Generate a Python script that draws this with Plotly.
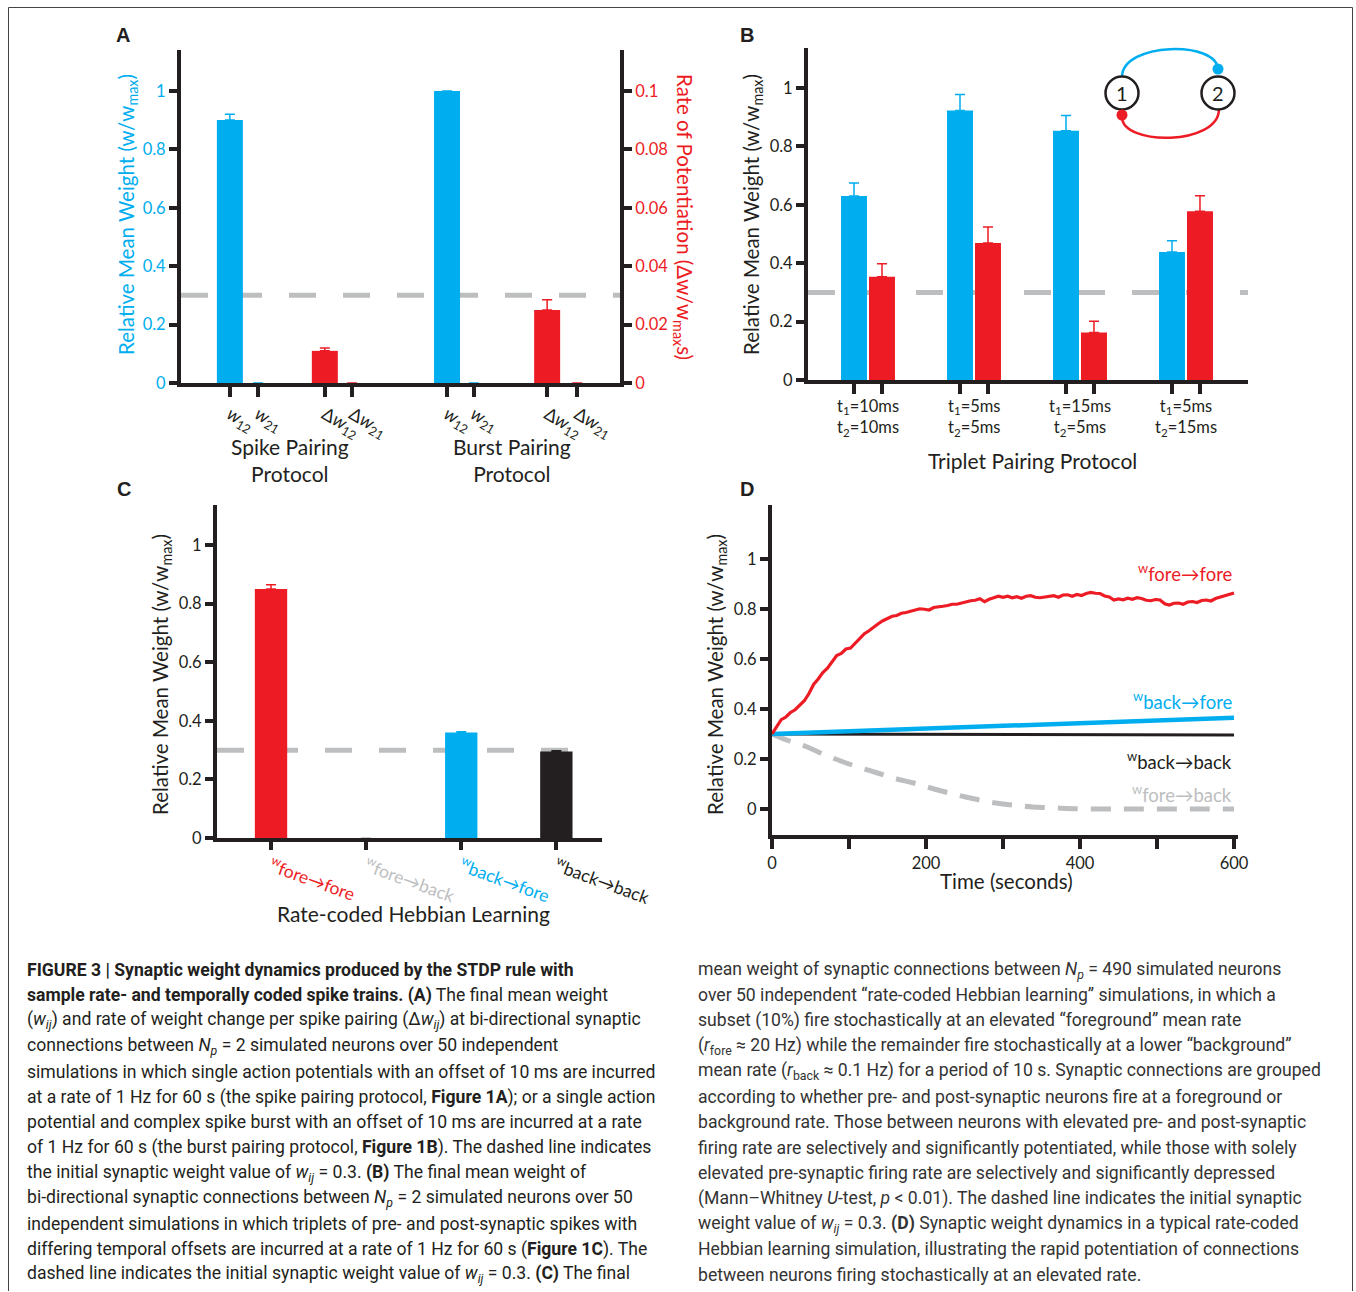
import plotly.graph_objects as go

# ================= DATA =================
a_tick_text = ["<i>w</i><sub>12</sub>", "<i>w</i><sub>21</sub>", "Δ<i>w</i><sub>12</sub>", "Δ<i>w</i><sub>21</sub>",
               "<i>w</i><sub>12</sub>", "<i>w</i><sub>21</sub>", "Δ<i>w</i><sub>12</sub>", "Δ<i>w</i><sub>21</sub>"]
a_groups = ["Spike Pairing<br>Protocol", "Burst Pairing<br>Protocol"]
a_weight = [0.90, 0.0, 1.00, 0.0]
a_weight_err = [0.02, 0.0, 0.0, 0.0]
a_rate = [0.011, 0.0, 0.025, 0.0]
a_rate_err = [0.001, 0.0, 0.0035, 0.0]
a_left_ticks = [0, 0.2, 0.4, 0.6, 0.8, 1]
a_left_ticktext = ["0", "0.2", "0.4", "0.6", "0.8", "1"]
a_right_ticks = [0, 0.02, 0.04, 0.06, 0.08, 0.1]
a_right_ticktext = ["0", "0.02", "0.04", "0.06", "0.08", "0.1"]

b_labels = ["t<sub>1</sub>=10ms<br>t<sub>2</sub>=10ms", "t<sub>1</sub>=5ms<br>t<sub>2</sub>=5ms",
            "t<sub>1</sub>=15ms<br>t<sub>2</sub>=5ms", "t<sub>1</sub>=5ms<br>t<sub>2</sub>=15ms"]
b_w12 = [0.63, 0.923, 0.854, 0.438]
b_w12_err = [0.045, 0.055, 0.052, 0.039]
b_w21 = [0.354, 0.469, 0.163, 0.578]
b_w21_err = [0.044, 0.055, 0.038, 0.053]

c_labels = ["fore→fore", "fore→back", "back→fore", "back→back"]
c_values = [0.85, 0.0, 0.36, 0.295]
c_err = [0.015, 0.0, 0.003, 0.003]

d_fore_fore_t = [0, 6, 12, 18, 24, 30, 36, 42, 48, 54, 60, 66, 72, 78, 84, 90, 96, 102, 108, 114,
                 120, 126, 132, 138, 144, 150, 156, 162, 168, 174, 180, 186, 192, 198, 204, 210, 216,
                 222, 228, 234, 240, 246, 252, 258, 264, 270, 276, 282, 288, 294, 300, 306, 312, 318,
                 324, 330, 336, 342, 348, 354, 360, 366, 372, 378, 384, 390, 396, 402, 408, 414, 420,
                 426, 432, 438, 444, 450, 456, 462, 468, 474, 480, 486, 492, 498, 504, 510, 516, 522,
                 528, 534, 540, 546, 552, 558, 564, 570, 576, 582, 588, 594, 600]
d_fore_fore = [0.300, 0.330, 0.357, 0.368, 0.386, 0.397, 0.416, 0.433, 0.462, 0.498, 0.520, 0.546,
               0.563, 0.587, 0.614, 0.622, 0.640, 0.644, 0.663, 0.684, 0.701, 0.713, 0.729, 0.741,
               0.753, 0.761, 0.771, 0.774, 0.783, 0.786, 0.791, 0.794, 0.801, 0.799, 0.796, 0.806,
               0.807, 0.811, 0.814, 0.819, 0.819, 0.824, 0.829, 0.833, 0.835, 0.841, 0.829, 0.839,
               0.845, 0.851, 0.847, 0.851, 0.845, 0.849, 0.843, 0.851, 0.853, 0.847, 0.845, 0.847,
               0.850, 0.853, 0.847, 0.856, 0.857, 0.851, 0.858, 0.854, 0.862, 0.866, 0.863, 0.862,
               0.852, 0.848, 0.836, 0.840, 0.837, 0.843, 0.839, 0.845, 0.842, 0.835, 0.833, 0.838,
               0.836, 0.821, 0.816, 0.823, 0.824, 0.819, 0.828, 0.830, 0.826, 0.834, 0.836, 0.832,
               0.842, 0.848, 0.855, 0.859, 0.864]
d_back_fore_t = [0, 100, 200, 300, 400, 500, 600]
d_back_fore = [0.300, 0.311, 0.322, 0.333, 0.344, 0.355, 0.365]
d_back_back_t = [0, 300, 600]
d_back_back = [0.300, 0.298, 0.296]
d_fore_back_t = [0, 20, 44, 70, 91, 115, 137, 160, 184, 207, 230, 253, 277, 300, 323, 346, 370,
                 400, 450, 500, 550, 600]
d_fore_back = [0.300, 0.275, 0.250, 0.215, 0.190, 0.165, 0.144, 0.122, 0.104, 0.083, 0.064, 0.047,
               0.031, 0.020, 0.013, 0.007, 0.004, 0.001, 0.0, 0.0, 0.0, 0.0]
d_xticks = [0, 100, 200, 300, 400, 500, 600]
d_xticktext = ["0", " ", "200", " ", "400", " ", "600"]

initial_weight = 0.3

caption_left = [
    "<b>FIGURE 3 | Synaptic weight dynamics produced by the STDP rule with</b>",
    "<b>sample rate- and temporally coded spike trains. (A)</b> The final mean weight",
    "(<i>w<sub>ij</sub></i>) and rate of weight change per spike pairing (Δ<i>w<sub>ij</sub></i>) at bi-directional synaptic",
    "connections between <i>N<sub>p</sub></i> = 2 simulated neurons over 50 independent",
    "simulations in which single action potentials with an offset of 10 ms are incurred",
    "at a rate of 1 Hz for 60 s (the spike pairing protocol, <b>Figure 1A</b>); or a single action",
    "potential and complex spike burst with an offset of 10 ms are incurred at a rate",
    "of 1 Hz for 60 s (the burst pairing protocol, <b>Figure 1B</b>). The dashed line indicates",
    "the initial synaptic weight value of <i>w<sub>ij</sub></i> = 0.3. <b>(B)</b> The final mean weight of",
    "bi-directional synaptic connections between <i>N<sub>p</sub></i> = 2 simulated neurons over 50",
    "independent simulations in which triplets of pre- and post-synaptic spikes with",
    "differing temporal offsets are incurred at a rate of 1 Hz for 60 s (<b>Figure 1C</b>). The",
    "dashed line indicates the initial synaptic weight value of <i>w<sub>ij</sub></i> = 0.3. <b>(C)</b> The final",
]
caption_right = [
    "mean weight of synaptic connections between <i>N<sub>p</sub></i> = 490 simulated neurons",
    "over 50 independent “rate-coded Hebbian learning” simulations, in which a",
    "subset (10%) fire stochastically at an elevated “foreground” mean rate",
    "(<i>r</i><sub>fore</sub> ≈ 20 Hz) while the remainder fire stochastically at a lower “background”",
    "mean rate (<i>r</i><sub>back</sub> ≈ 0.1 Hz) for a period of 10 s. Synaptic connections are grouped",
    "according to whether pre- and post-synaptic neurons fire at a foreground or",
    "background rate. Those between neurons with elevated pre- and post-synaptic",
    "firing rate are selectively and significantly potentiated, while those with solely",
    "elevated pre-synaptic firing rate are selectively and significantly depressed",
    "(Mann–Whitney <i>U</i>-test, <i>p</i> &lt; 0.01). The dashed line indicates the initial synaptic",
    "weight value of <i>w<sub>ij</sub></i> = 0.3. <b>(D)</b> Synaptic weight dynamics in a typical rate-coded",
    "Hebbian learning simulation, illustrating the rapid potentiation of connections",
    "between neurons firing stochastically at an elevated rate.",
]

# ================= LAYOUT HELPERS =================
W, H = 1356, 1292


def px(X):
    return X / W


def py(Y):
    return 1 - Y / H


BLUE = "#00AEEF"
RED = "#ED1C24"
BLACK = "#231F20"
GRAY = "#BCBEC0"
FONT = "Lato, 'Open Sans', sans-serif"
CAPFONT = "Roboto, sans-serif"

a_slot_weight = [1.04, 1.64, 5.66, 6.23]
a_slot_rate = [3.06, 3.64, 7.79, 8.43]
a_slot_all = sorted(a_slot_weight + a_slot_rate)
a_group_pos = [2.32, 7.04]
A_XR = [0, 9.34]
b_groups = list(range(len(b_labels)))
b_off = 0.132
B_XR = [-0.566, 3.585]
c_slots = list(range(len(c_labels)))
C_XR = [-0.568, 3.48]
c_colors = [RED, GRAY, BLUE, BLACK]


def wlab(t):
    return f"<sup>w</sup>{t}"


fig = go.Figure()
err_style = dict(type="data", symmetric=False, thickness=1.5, width=5)

fig.add_trace(go.Bar(x=a_slot_weight, y=a_weight, width=0.553, marker=dict(color=BLUE, line_width=0),
                     error_y=dict(array=a_weight_err, arrayminus=[0] * len(a_weight), color=BLUE, **err_style),
                     xaxis="x", yaxis="y", showlegend=False))
fig.add_trace(go.Bar(x=a_slot_rate, y=a_rate, width=0.553, marker=dict(color=RED, line_width=0),
                     error_y=dict(array=a_rate_err, arrayminus=[0] * len(a_rate), color=RED, **err_style),
                     xaxis="x", yaxis="y2", showlegend=False))
fig.add_trace(go.Bar(x=[g - b_off for g in b_groups], y=b_w12, width=0.245, marker=dict(color=BLUE, line_width=0),
                     error_y=dict(array=b_w12_err, arrayminus=[0] * 4, color=BLUE, **err_style),
                     xaxis="x3", yaxis="y3", showlegend=False))
fig.add_trace(go.Bar(x=[g + b_off for g in b_groups], y=b_w21, width=0.245, marker=dict(color=RED, line_width=0),
                     error_y=dict(array=b_w21_err, arrayminus=[0] * 4, color=RED, **err_style),
                     xaxis="x3", yaxis="y3", showlegend=False))
for i in range(len(c_labels)):
    fig.add_trace(go.Bar(x=[c_slots[i]], y=[c_values[i]], width=0.34, marker=dict(color=c_colors[i], line_width=0),
                         error_y=dict(array=[c_err[i]], arrayminus=[0], color=c_colors[i], **err_style),
                         xaxis="x5", yaxis="y5", showlegend=False))
fig.add_trace(go.Scatter(x=d_fore_back_t, y=d_fore_back, mode="lines",
                         line=dict(color=GRAY, width=5, dash="20px,13px", shape="spline"),
                         xaxis="x6", yaxis="y6", showlegend=False))
fig.add_trace(go.Scatter(x=d_back_back_t, y=d_back_back, mode="lines", line=dict(color=BLACK, width=3),
                         xaxis="x6", yaxis="y6", showlegend=False))
fig.add_trace(go.Scatter(x=d_back_fore_t, y=d_back_fore, mode="lines", line=dict(color=BLUE, width=4.5),
                         xaxis="x6", yaxis="y6", showlegend=False))
fig.add_trace(go.Scatter(x=d_fore_fore_t, y=d_fore_fore, mode="lines", line=dict(color=RED, width=3.2),
                         xaxis="x6", yaxis="y6", showlegend=False))


def axis(**kw):
    base = dict(showline=True, linewidth=4, linecolor=BLACK, ticks="outside", tickwidth=4, tickcolor=BLACK,
                ticklen=8, showgrid=False, zeroline=False, fixedrange=True, automargin=False,
                tickfont=dict(family=FONT, size=16.5, color=BLACK))
    base.update(kw)
    return base


fig.update_layout(
    width=W, height=H, autosize=False, margin=dict(l=0, r=0, t=0, b=0, pad=0, autoexpand=False),
    paper_bgcolor="white", plot_bgcolor="rgba(0,0,0,0)", barmode="overlay", showlegend=False,
    font=dict(family=FONT, color=BLACK),
    xaxis=axis(domain=[px(181), px(620)], range=A_XR, anchor="y", tickvals=a_slot_all, ticktext=a_tick_text,
               tickangle=30, ticklen=10, tickfont=dict(family=FONT, size=18, color=BLACK)),
    yaxis=axis(domain=[py(383), py(50)], range=[0, 1.14], anchor="x", tickvals=a_left_ticks,
               ticktext=a_left_ticktext, tickfont=dict(family=FONT, size=16.5, color=BLUE)),
    yaxis2=axis(domain=[py(383), py(50)], range=[0, 0.114], anchor="x", overlaying="y", side="right",
                tickvals=a_right_ticks, ticktext=a_right_ticktext,
                tickfont=dict(family=FONT, size=16.5, color=RED)),
    xaxis3=axis(domain=[px(808), px(1248)], range=B_XR, anchor="y3",
                tickvals=[g - b_off for g in b_groups] + [g + b_off for g in b_groups],
                ticktext=[" "] * 8, ticklen=10),
    yaxis3=axis(domain=[py(380), py(48)], range=[0, 1.137], anchor="x3", tickvals=a_left_ticks,
                ticktext=a_left_ticktext),
    xaxis5=axis(domain=[px(217), px(602)], range=C_XR, anchor="y5", tickvals=c_slots,
                ticktext=[f"<span style='color:{c}'>{wlab(t)}</span>" for c, t in zip(c_colors, c_labels)],
                tickangle=20, ticklen=8, tickfont=dict(family=FONT, size=17.5, color=BLACK)),
    yaxis5=axis(domain=[py(838), py(505)], range=[0, 1.137], anchor="x5", tickvals=a_left_ticks,
                ticktext=a_left_ticktext),
    xaxis6=axis(domain=[px(772), px(1238)], range=[0, 605.2], anchor="y6", tickvals=d_xticks,
                ticktext=d_xticktext, ticklen=10),
    yaxis6=axis(domain=[py(835), py(505)], range=[-0.104, 1.216], anchor="x6", tickvals=a_left_ticks,
                ticktext=a_left_ticktext),
)

shapes = []
dash_line = dict(color=GRAY, width=5, dash="27px,27px")
shapes.append(dict(type="line", xref="x", yref="y", x0=A_XR[0], x1=A_XR[1], y0=initial_weight, y1=initial_weight,
                   line=dash_line, layer="below"))
shapes.append(dict(type="line", xref="x3", yref="y3", x0=B_XR[0], x1=B_XR[1], y0=initial_weight,
                   y1=initial_weight, line=dash_line, layer="below"))
shapes.append(dict(type="line", xref="x5", yref="y5", x0=C_XR[0], x1=3.137, y0=initial_weight,
                   y1=initial_weight, line=dash_line, layer="below"))


def P(X, Y):
    return f"{px(X):.5f},{py(Y):.5f}"


shapes.append(dict(type="path", xref="paper", yref="paper",
                   path=f"M{P(1122, 77)} C{P(1122, 42)} {P(1218, 40)} {P(1218, 70)}",
                   line=dict(color=BLUE, width=2.5)))
shapes.append(dict(type="path", xref="paper", yref="paper",
                   path=f"M{P(1219, 109)} C{P(1219, 146)} {P(1122, 146)} {P(1122, 117)}",
                   line=dict(color=RED, width=2.5)))
for cx in (1122, 1218):
    shapes.append(dict(type="circle", xref="paper", yref="paper", x0=px(cx - 16.5), x1=px(cx + 16.5),
                       y0=py(93 + 16.5), y1=py(93 - 16.5), line=dict(color=BLACK, width=2.5),
                       fillcolor="white"))
shapes.append(dict(type="circle", xref="paper", yref="paper", x0=px(1218 - 5.5), x1=px(1218 + 5.5),
                   y0=py(69 + 5.5), y1=py(69 - 5.5), line=dict(width=0), fillcolor=BLUE))
shapes.append(dict(type="circle", xref="paper", yref="paper", x0=px(1122 - 5.5), x1=px(1122 + 5.5),
                   y0=py(115 + 5.5), y1=py(115 - 5.5), line=dict(width=0), fillcolor=RED))
shapes.append(dict(type="path", xref="paper", yref="paper",
                   path=f"M{P(8.5, 1291)} L{P(8.5, 7.5)} L{P(1352.5, 7.5)} L{P(1352.5, 1291)}",
                   line=dict(color="#444444", width=1)))
fig.update_layout(shapes=shapes)

ann = []


def A(text, X, Y, size=20, color=BLACK, angle=0, xa="center", ya="middle", family=FONT, align="center"):
    ann.append(dict(text=text, x=px(X), y=py(Y), xref="paper", yref="paper", showarrow=False,
                    font=dict(family=family, size=size, color=color), textangle=angle,
                    xanchor=xa, yanchor=ya, align=align))


for L, X, Y in (("A", 123, 35), ("B", 747, 35), ("C", 124, 489), ("D", 747, 489)):
    A(f"<b>{L}</b>", X, Y, size=20, family="'Liberation Sans', Arial, sans-serif")

ytitle = "Relative Mean Weight (w/w<sub>max</sub>)"
A(ytitle, 127, 215, size=20.5, color=BLUE, angle=-90)
A("Rate of Potentiation (Δw/w<sub>max</sub>s)", 683, 217, size=20.5, color=RED, angle=90)
A(ytitle, 752, 215, size=20.5, angle=-90)
A(ytitle, 161, 675, size=20.5, angle=-90)
A(ytitle, 716, 675, size=20.5, angle=-90)
A("1", 1122, 93, size=20)
A("2", 1218, 93, size=20)

for g, gx in zip(a_groups, a_group_pos):
    ann.append(dict(text=g, x=gx, y=py(460), xref="x", yref="paper", showarrow=False,
                    font=dict(family=FONT, size=21, color=BLACK), xanchor="center", yanchor="middle"))
for lbl, g in zip(b_labels, b_groups):
    ann.append(dict(text=lbl, x=g, y=py(418), xref="x3", yref="paper", showarrow=False,
                    font=dict(family=FONT, size=16.5, color=BLACK), xanchor="center", yanchor="middle"))
A("Triplet Pairing Protocol", 1032, 460, size=21)
A("Rate-coded Hebbian Learning", 414, 913, size=21)
A("Time (seconds)", 1006, 881, size=20.5)

for txt, col, yv in (("fore→fore", RED, 0.948), ("back→fore", BLUE, 0.436),
                     ("back→back", BLACK, 0.196), ("fore→back", GRAY, 0.064)):
    ann.append(dict(text=wlab(txt), x=600, y=yv, xref="x6", yref="y6", showarrow=False,
                    font=dict(family=FONT, size=18.5, color=col), xanchor="right", yanchor="middle"))

for i, line in enumerate(caption_left):
    A(line, 25, 970 + 25.4 * i, size=17.6, color=BLACK, xa="left", family=CAPFONT, align="left")
for i, line in enumerate(caption_right):
    A(line, 696, 970 + 25.4 * i, size=17.6, color="#333333", xa="left", family=CAPFONT, align="left")

fig.update_layout(annotations=ann)

page_js = ("document.documentElement.style.margin='0px';"
           "document.body.style.margin='0px';"
           "document.body.style.overflow='hidden';"
           "document.documentElement.style.overflow='hidden';")

fig.write_html("out.html", config={"displayModeBar": False, "responsive": False}, post_script=page_js)
